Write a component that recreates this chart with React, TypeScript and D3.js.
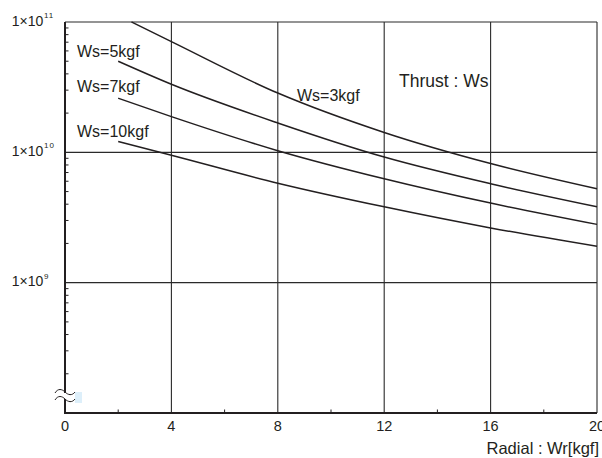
import React from "react";
import * as d3 from "d3";

const xTicks = [0, 4, 8, 12, 16, 20];
const xMinorTicks = [2, 6, 10, 14, 18];
const yDecades = [1e9, 1e10, 1e11];
const yDecadeExps = ["9", "10", "11"];

const seriesNames = ["Ws=3kgf", "Ws=5kgf", "Ws=7kgf", "Ws=10kgf"];
const ws3X = [2.5, 4, 8, 12, 16, 20];
const ws3Y = [1.0e11, 7.07e10, 2.85e10, 1.42e10, 8.2e9, 5.25e9];
const ws5X = [2, 4, 8, 12, 16, 20];
const ws5Y = [5.0e10, 3.33e10, 1.68e10, 9.2e9, 5.74e9, 3.82e9];
const ws7X = [2, 4, 8, 12, 16, 20];
const ws7Y = [2.6e10, 1.88e10, 1.03e10, 6.27e9, 4.08e9, 2.8e9];
const ws10X = [2, 4, 8, 12, 16, 20];
const ws10Y = [1.21e10, 9.5e9, 5.8e9, 3.82e9, 2.63e9, 1.9e9];

const FONT = "'Liberation Sans', Arial, Helvetica, sans-serif";
const INK = "#231f20";

export default function App() {
  const x = d3.scaleLinear().domain([0, 20]).range([65, 597]);
  const y = d3.scaleLog().domain([1e8, 1e11]).range([413, 22]);

  const series = [
    { xs: ws3X, ys: ws3Y },
    { xs: ws5X, ys: ws5Y },
    { xs: ws7X, ys: ws7Y },
    { xs: ws10X, ys: ws10Y },
  ];
  const line = d3
    .line<[number, number]>()
    .x((d) => x(d[0]))
    .y((d) => y(d[1]))
    .curve(d3.curveMonotoneX);

  const minorY: number[] = [];
  [1e8, 1e9, 1e10].forEach((base) => {
    for (let k = 2; k <= 9; k++) minorY.push(base * k);
  });

  const labelPos = [
    { name: seriesNames[0], lx: 297, ly: 101 },
    { name: seriesNames[1], lx: 77, ly: 57 },
    { name: seriesNames[2], lx: 77, ly: 92 },
    { name: seriesNames[3], lx: 77, ly: 137 },
  ];

  const x0 = x(0);
  const x1 = x(20);
  const yTop = y(1e11);
  const yBot = y(1e8);

  return (
    <svg
      width={602}
      height={458}
      style={{ position: "absolute", left: 0, top: 0, display: "block", background: "#fff" }}
      fontFamily={FONT}
    >
      <rect x={0} y={0} width={602} height={458} fill="#fff" />
      {/* vertical grid */}
      {xTicks.slice(1).map((t) => (
        <line key={"vg" + t} x1={x(t)} x2={x(t)} y1={yTop} y2={yBot} stroke="#2a2a2a" strokeWidth={1.1} />
      ))}
      {/* horizontal grid incl. top border */}
      {yDecades.map((t) => (
        <line key={"hg" + t} x1={x0} x2={x1} y1={y(t)} y2={y(t)} stroke="#2a2a2a" strokeWidth={1.1} />
      ))}
      {/* minor y ticks */}
      {minorY.map((t) => (
        <line key={"my" + t} x1={x0} x2={x0 + 3.5} y1={y(t)} y2={y(t)} stroke={INK} strokeWidth={1} />
      ))}
      {/* minor x ticks */}
      {xMinorTicks.map((t) => (
        <line key={"mx" + t} x1={x(t)} x2={x(t)} y1={yBot} y2={yBot - 3.5} stroke={INK} strokeWidth={1} />
      ))}
      {/* axes */}
      <line x1={x0} x2={x0} y1={yTop} y2={yBot + 1} stroke={INK} strokeWidth={2} />
      <line x1={x0 - 1} x2={x1} y1={yBot} y2={yBot} stroke={INK} strokeWidth={2} />

      {/* break symbol */}
      <rect x={59} y={393} width={12} height={6} fill="#fff" />
      <rect x={75} y={392} width={7} height={11} fill="#ddeffa" />
      <path d="M55,393 C58,388 62,389 65,392 S72,396 75,392" fill="none" stroke={INK} strokeWidth={1} />
      <path d="M55,400 C58,395 62,396 65,399 S72,403 75,399" fill="none" stroke={INK} strokeWidth={1} />

      {/* curves */}
      {series.map((s, i) => (
        <path
          key={"s" + i}
          d={line(s.xs.map((v, j) => [v, s.ys[j]] as [number, number])) || ""}
          fill="none"
          stroke={INK}
          strokeWidth={1.5}
        />
      ))}

      {/* series labels */}
      {labelPos.map((l) => (
        <text key={l.name} x={l.lx} y={l.ly} fontSize={16} fill={INK}>
          {l.name}
        </text>
      ))}
      <text x={399} y={87} fontSize={17.5} fill={INK}>
        Thrust : Ws
      </text>

      {/* x tick labels */}
      {xTicks.map((t) => (
        <text key={"xt" + t} x={x(t)} y={431} fontSize={14.5} textAnchor="middle" fill={INK}>
          {t}
        </text>
      ))}
      <text x={599} y={454} fontSize={16.5} textAnchor="end" fill={INK}>
        Radial : Wr[kgf]
      </text>

      {/* y tick labels */}
      {yDecades.map((t, i) => (
        <g key={"yt" + t}>
          <text x={43.3} y={y(t) + 3.8} fontSize={14} textAnchor="end" fill={INK}>
            1×10
          </text>
          <text x={44} y={y(t) - 4} fontSize={8} letterSpacing={1} fill={INK}>
            {yDecadeExps[i]}
          </text>
        </g>
      ))}
    </svg>
  );
}
